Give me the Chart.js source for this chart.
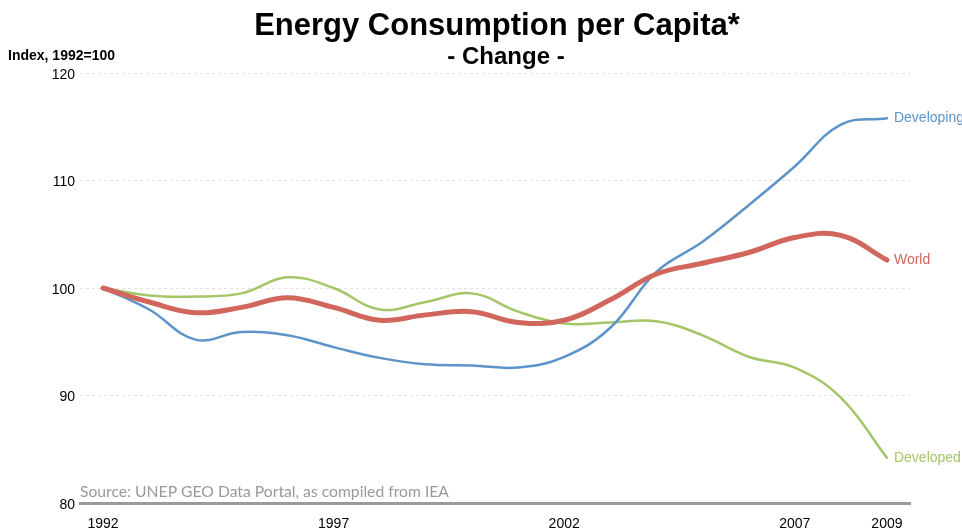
<!DOCTYPE html>
<html>
<head>
<meta charset="utf-8">
<title>Energy Consumption per Capita</title>
<script src="https://cdn.jsdelivr.net/npm/chart.js@4/dist/chart.umd.min.js"></script>
<style>
  html, body { margin: 0; padding: 0; background: #fff; }
  canvas { display: block; }
</style>
</head>
<body>
<canvas id="energyChart" width="962" height="531"></canvas>
<script>
// Index, 1992 = 100
const years = [1992, 1993, 1994, 1995, 1996, 1997, 1998, 1999, 2000, 2001,
               2002, 2003, 2004, 2005, 2006, 2007, 2008, 2009];
const world      = [100, 98.7, 97.7, 98.2, 99.1, 98.2, 97.0, 97.5, 97.8, 96.8,
                    97.0, 98.9, 101.3, 102.3, 103.3, 104.7, 104.9, 102.6];
const developing = [100, 98.0, 95.2, 95.9, 95.6, 94.5, 93.5, 92.9, 92.8, 92.6,
                    93.6, 96.3, 101.5, 104.3, 107.7, 111.3, 115.2, 115.8];
const developed  = [100, 99.3, 99.2, 99.5, 101.0, 100.0, 98.0, 98.7, 99.5, 97.8,
                    96.7, 96.8, 96.9, 95.6, 93.6, 92.6, 89.8, 84.2];
const xTicks = [1992, 1997, 2002, 2007, 2009];
const yTicks = [80, 90, 100, 110, 120];

const toPoints = (values) => values.map((v, i) => ({ x: years[i], y: v }));

const BLUE = 'rgb(92, 148, 202)';
const RED = 'rgb(208, 102, 92)';
const GREEN = 'rgb(164, 197, 104)';
const SANS = '"Liberation Sans", Arial, sans-serif';

// titles, axis caption, source note and end-of-line series names
const annotations = {
    id: 'annotations',
    afterDraw(chart) {
        const ctx = chart.ctx;
        const area = chart.chartArea;
        ctx.save();
        ctx.fillStyle = '#000';
        ctx.textAlign = 'center';
        ctx.textBaseline = 'alphabetic';
        ctx.font = 'bold 31px ' + SANS;
        ctx.fillText('Energy Consumption per Capita*', 497, 35);
        ctx.font = 'bold 24px ' + SANS;
        ctx.fillText('- Change -', 506, 64);

        ctx.textAlign = 'left';
        ctx.font = 'bold 14px ' + SANS;
        ctx.fillText('Index, 1992=100', 8, 60);

        ctx.fillStyle = '#999';
        ctx.font = '15.7px Lato, "Open Sans", sans-serif';
        ctx.fillText('Source: UNEP GEO Data Portal, as compiled from IEA', area.left, 497);

        ctx.font = '14px ' + SANS;
        ctx.textBaseline = 'middle';
        chart.data.datasets.forEach((ds, i) => {
            const pts = chart.getDatasetMeta(i).data;
            const last = pts[pts.length - 1];
            ctx.fillStyle = ds.borderColor;
            ctx.fillText(ds.label, last.x + 7, last.y);
        });
        ctx.restore();
    }
};

new Chart(document.getElementById('energyChart'), {
    type: 'line',
    data: {
        datasets: [
            { label: 'World', data: toPoints(world), borderColor: RED, borderWidth: 5 },
            { label: 'Developing', data: toPoints(developing), borderColor: BLUE, borderWidth: 2.5 },
            { label: 'Developed', data: toPoints(developed), borderColor: GREEN, borderWidth: 2.5 }
        ]
    },
    options: {
        responsive: false,
        animation: false,
        layout: { padding: { top: 73, right: 52, bottom: 0, left: 0 } },
        elements: {
            point: { radius: 0 },
            line: { tension: 0.4, fill: false, borderCapStyle: 'round' }
        },
        plugins: {
            legend: { display: false },
            tooltip: { enabled: false }
        },
        scales: {
            x: {
                type: 'linear',
                min: 1991.5,
                max: 2009.5,
                afterBuildTicks: (scale) => { scale.ticks = xTicks.map((v) => ({ value: v })); },
                afterFit: (scale) => { scale.height = 28; },
                grid: { display: false },
                border: { display: true, color: '#9a9a9a', width: 3 },
                ticks: {
                    color: '#000',
                    padding: 5,
                    maxRotation: 0,
                    autoSkip: false,
                    font: { family: SANS, size: 14 },
                    callback: (v) => String(v)
                }
            },
            y: {
                min: 80,
                max: 120,
                afterBuildTicks: (scale) => { scale.ticks = yTicks.map((v) => ({ value: v })); },
                afterFit: (scale) => { scale.width = 80; },
                grid: { color: '#e2e2e2', lineWidth: 1, drawTicks: false },
                border: { display: false, dash: [3, 3] },
                ticks: {
                    color: '#000',
                    padding: 5,
                    labelOffset: 2,
                    font: { family: SANS, size: 14 }
                }
            }
        }
    },
    plugins: [annotations]
});
</script>
</body>
</html>
